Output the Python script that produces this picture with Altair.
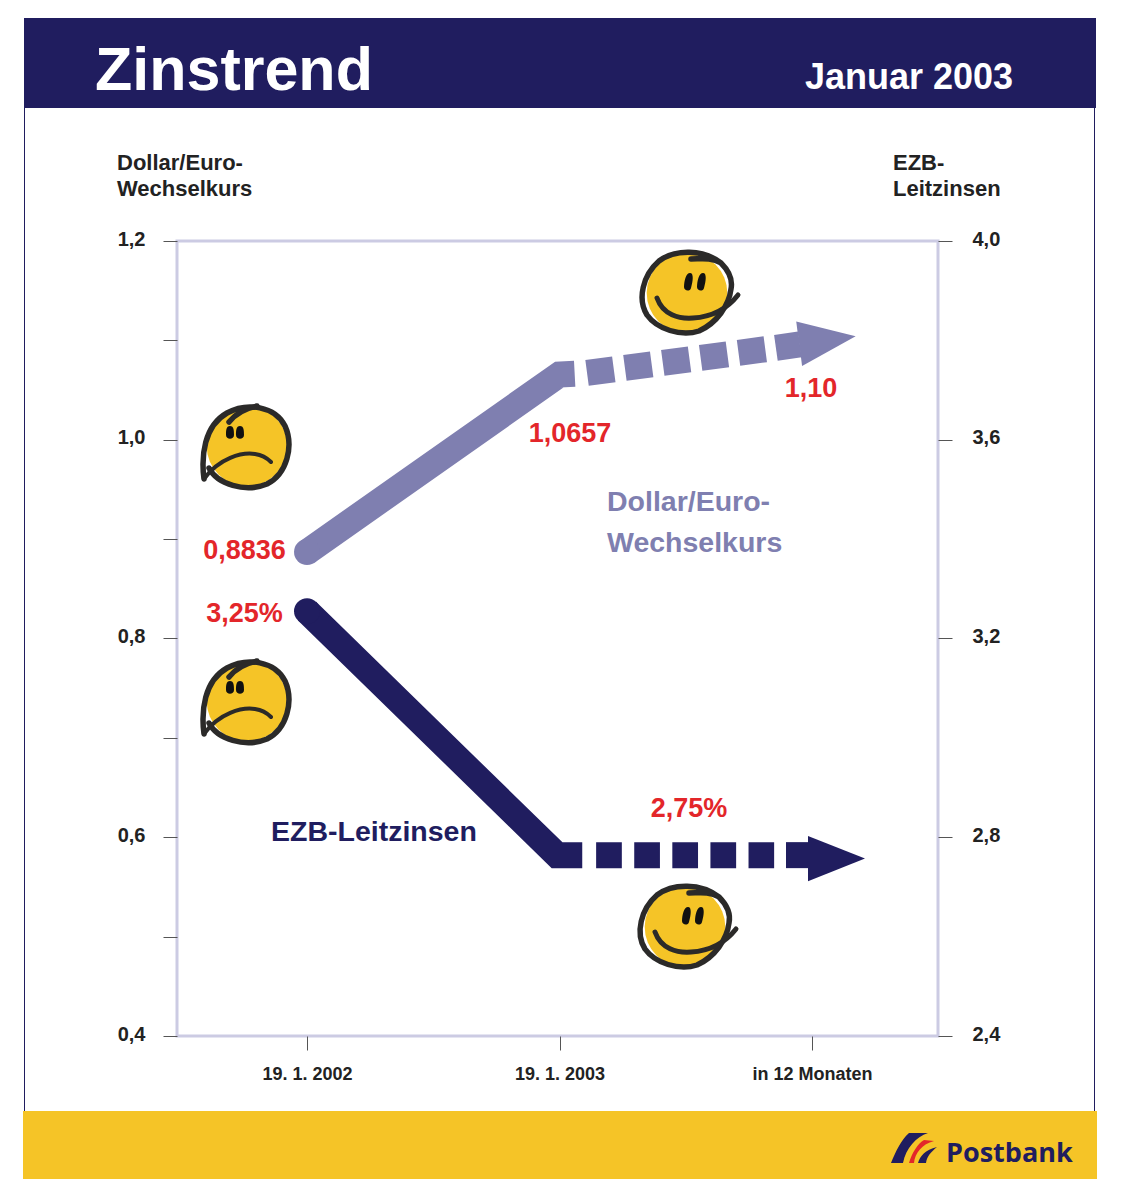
import re
import altair as alt
import pandas as pd

PLOT_L, PLOT_T, PLOT_W, PLOT_H = 177, 241, 761, 795
NAVY = "#201d5f"
LAV = "#7f7fb0"
RED = "#e3262a"
YEL = "#f5c427"
INK = "#2b2a29"
FRAME = "#cccbe3"
NARROW = "Liberation Sans"

x_ticks = [0, 1, 2]
x_labels = ["19. 1. 2002", "19. 1. 2003", "in 12 Monaten"]
left_ticks = [0.4, 0.5, 0.6, 0.7, 0.8, 0.9, 1.0, 1.1, 1.2]
right_ticks = [2.4, 2.8, 3.2, 3.6, 4.0]

usd_x = [0, 1.0, 1.06]
usd_y = [0.887, 1.0657, 1.0665]
usd_dash_x = [1.109, 1.822]
usd_dash_y = [1.0673, 1.0913]
usd_shaft_x = [1.857, 1.952]
usd_shaft_y = [1.0925, 1.0959]
usd_head = (2.061, 1.1004)

ecb_x = [0, 0.99, 1.09]
ecb_y = [3.255, 2.764, 2.764]
ecb_dash_x = [1.145, 1.85]
ecb_dash_y = [2.764, 2.764]
ecb_shaft_x = [1.897, 1.992]
ecb_shaft_y = [2.764, 2.764]
ecb_head = (2.097, 2.757)

X = alt.Scale(domain=[-0.515, 2.499], nice=False, zero=False)
YL = alt.Scale(domain=[0.4, 1.2], nice=False, zero=False)
YR = alt.Scale(domain=[2.4, 4.0], nice=False, zero=False)

X_AXIS = alt.Axis(
    values=x_ticks, orient="bottom", domain=False, grid=False, tickSize=14,
    tickColor="#555555", labelPadding=15, labelFont=NARROW, labelFontWeight="bold",
    labelFontSize=18, labelColor="#222222", title=None,
    labelExpr=f"{x_labels}[datum.value]")
X_ENC = alt.X("x:Q", scale=X, axis=X_AXIS)


def px(v):
    return alt.value(v - PLOT_L)


def py(v):
    return alt.value(v - PLOT_T)


def series(xs, ys, scale, **mark):
    d = pd.DataFrame({"x": xs, "y": ys})
    return alt.Chart(d).mark_line(**mark).encode(
        x=X_ENC,
        y=alt.Y("y:Q", scale=scale, axis=None),
    )


def marker(xv, yv, scale, shape, size, color, angle=0):
    d = pd.DataFrame({"x": [xv], "y": [yv]})
    return alt.Chart(d).mark_point(
        shape=shape, size=size, filled=True, color=color, opacity=1, angle=angle
    ).encode(
        x=X_ENC,
        y=alt.Y("y:Q", scale=scale, axis=None),
    )


def box(x1, y1, x2, y2, color):
    d = pd.DataFrame({"a": [0]})
    return alt.Chart(d).mark_rect(color=color).encode(
        x=px(x1), x2=px(x2), y=py(y1), y2=py(y2)
    )


def label(t, xv, yv, size, color="#222222", align="left", font=NARROW, weight="bold"):
    d = pd.DataFrame({"t": [t]})
    return alt.Chart(d).mark_text(
        align=align, baseline="alphabetic", font=font, fontWeight=weight,
        fontSize=size, color=color,
    ).encode(x=px(xv), y=py(yv), text="t:N")


def unit(path):
    return re.sub(r"-?\d+(?:\.\d+)?", lambda m: f"{float(m.group())/50:.3f}", path)


def glyph(cx, cy, path, filled=False, color=INK, width=5.5):
    d = pd.DataFrame({"a": [0]})
    kw = dict(shape=unit(path), size=10000, opacity=1)
    if filled:
        m = alt.Chart(d).mark_point(filled=True, color=color, strokeWidth=0, **kw)
    else:
        m = alt.Chart(d).mark_point(filled=False, color=color, strokeWidth=width,
                                    strokeCap="round", strokeJoin="round", **kw)
    return m.encode(x=px(cx), y=py(cy))


SAD_LINE = ("M -43 33 C -46 10 -43 -20 -20 -33 C 0 -44 28 -40 38 -20 "
            "C 47 0 40 28 20 38 C -2 47 -30 38 -38 22")
SAD_MOUTH = "M -43 33 C -28 12 -5 6 8 8 C 15 9 20 12 24 16"
SAD_BROW = "M -18 -24 C -10 -34 0 -38 10 -40"
SAD_EYES = ("M -17 -20 C -13 -20 -13 -15 -13 -11 C -13 -6 -21 -6 -21 -11 C -21 -15 -21 -20 -17 -20 Z "
            "M -7 -20 C -3 -20 -3 -15 -3 -11 C -3 -6 -11 -6 -11 -11 C -11 -15 -11 -20 -7 -20 Z")
HAPPY_LINE = ("M 34 -30 C 42 -22 46 -14 44 -4 C 42 12 30 30 12 38 C -6 44 -30 36 -40 22 "
              "C -50 6 -44 -18 -28 -32 C -12 -44 16 -44 34 -30 C 24 -36 14 -34 4 -34")
HAPPY_SMILE = "M -30 5 C -24 22 -8 26 6 25 C 24 24 40 16 51 2"
HAPPY_EYES = ("M 3 -20 C 7 -20 6 -12 4 -5 C 3 -1 -3 -2 -3 -6 C -3 -12 -1 -20 3 -20 Z "
              "M 16 -20 C 20 -20 19 -12 17 -5 C 16 -1 10 -2 10 -6 C 10 -12 12 -20 16 -20 Z")


def face(cx, cy, kind):
    d = pd.DataFrame({"a": [0]})
    disc = alt.Chart(d).mark_point(shape="circle", filled=True, color=YEL, size=6500,
                                   opacity=1).encode(x=px(cx), y=py(cy))
    if kind == "sad":
        return [disc, glyph(cx, cy, SAD_LINE), glyph(cx, cy, SAD_MOUTH, width=4),
                glyph(cx, cy, SAD_BROW, width=5.5), glyph(cx, cy, SAD_EYES, True, "#111111")]
    return [disc, glyph(cx, cy, HAPPY_LINE), glyph(cx, cy, HAPPY_SMILE, width=5),
            glyph(cx, cy, HAPPY_EYES, True, "#111111")]


HEAD = "M -1 -0.79 L 1 0 L -1 0.79 Z"
LOGO_A = "M -21 15 C -16 3 -11 -8 -3 -15 L 16 -15 C 4 -11 -6 0 -9 15 Z"
LOGO_B = "M -3 15 C 0 5 6 -5 12 -8 L 22 -7 C 10 -4 3 5 2 15 Z"
LOGO_C = "M 6 15 C 8 8 13 2 25 -1 C 19 4 15 8 14 15 Z"

axis_left = alt.Chart(pd.DataFrame({"x": [0], "y": [1.2]})).mark_point(opacity=0).encode(
    x=X_ENC,
    y=alt.Y("y:Q", scale=YL, title=None, axis=alt.Axis(
        values=left_ticks, orient="left", domain=False, grid=False, tickSize=14,
        tickColor="#555555", labelPadding=18, labelFont=NARROW, labelFontWeight="bold",
        labelFontSize=20, labelColor="#222222", labelOffset=-2,
        labelExpr="round(datum.value*10)%2==0 ? replace(format(datum.value,'.1f'),'.',',') : ''")),
)
axis_right = alt.Chart(pd.DataFrame({"x": [0], "y": [4.0]})).mark_point(opacity=0).encode(
    x=X_ENC,
    y=alt.Y("y:Q", scale=YR, title=None, axis=alt.Axis(
        values=right_ticks, orient="right", domain=False, grid=False, tickSize=14,
        tickColor="#555555", labelPadding=20, labelFont=NARROW, labelFontWeight="bold",
        labelFontSize=20, labelColor="#222222", labelOffset=-2,
        labelExpr="replace(format(datum.value,'.1f'),'.',',')")),
)

layers = [
    box(24, 18, 1096, 108, NAVY),
    box(23, 1111, 1097, 1179, YEL),
    box(24, 108, 25, 1111, NAVY),
    box(1094, 108, 1095, 1111, NAVY),
    label("Zinstrend", 95, 90, 61, "white"),
    label("Januar 2003", 805, 89, 36, "white"),
    axis_left,
    axis_right,
    label("Dollar/Euro-", 117, 170, 22),
    label("Wechselkurs", 117, 196, 22),
    label("EZB-", 893, 170, 22),
    label("Leitzinsen", 893, 196, 22),
    series(usd_x, usd_y, YL, color=LAV, strokeWidth=26, strokeCap="butt", strokeJoin="miter"),
    marker(usd_x[0], usd_y[0], YL, "circle", 676, LAV),
    series(usd_dash_x, usd_dash_y, YL, color=LAV, strokeWidth=26, strokeCap="butt",
           strokeDash=[27, 11.2]),
    series(usd_shaft_x, usd_shaft_y, YL, color=LAV, strokeWidth=26, strokeCap="butt"),
    marker(usd_head[0], usd_head[1], YL, HEAD, 3249, LAV, angle=352.5),
    series(ecb_x, ecb_y, YR, color=NAVY, strokeWidth=26, strokeCap="butt", strokeJoin="miter"),
    marker(ecb_x[0], ecb_y[0], YR, "circle", 676, NAVY),
    series(ecb_dash_x, ecb_dash_y, YR, color=NAVY, strokeWidth=26, strokeCap="butt",
           strokeDash=[25.7, 12.4]),
    series(ecb_shaft_x, ecb_shaft_y, YR, color=NAVY, strokeWidth=26, strokeCap="butt"),
    marker(ecb_head[0], ecb_head[1], YR, HEAD, 3249, NAVY),
    label("0,8836", 244.5, 559, 27, RED, "center"),
    label("3,25%", 244.5, 622, 27, RED, "center"),
    label("1,0657", 570, 442, 27, RED, "center"),
    label("1,10", 811, 397, 27, RED, "center"),
    label("2,75%", 689, 817, 27, RED, "center"),
    label("Dollar/Euro-", 607, 511, 28.5, LAV),
    label("Wechselkurs", 607, 552, 28.5, LAV),
    label("EZB-Leitzinsen", 271, 841, 28.5, NAVY),
    *face(247, 446, "sad"),
    *face(247, 701, "sad"),
    *face(687, 293, "happy"),
    *face(685, 927, "happy"),
    glyph(912, 1148, LOGO_A, True, NAVY),
    glyph(912, 1148, LOGO_B, True, RED),
    glyph(912, 1148, LOGO_C, True, NAVY),
    label("Postbank", 946, 1162, 27, NAVY, font="Open Sans"),
]

chart = (
    alt.layer(*layers)
    .resolve_scale(y="independent")
    .properties(
        width=PLOT_W, height=PLOT_H,
        padding={"left": PLOT_L - 8, "top": PLOT_T - 8, "right": 170, "bottom": 150},
        autosize=alt.AutoSizeParams(type="none"),
        background="white",
    )
    .configure_view(stroke=FRAME, strokeWidth=3)
)
chart.save("out.html", embed_options={"renderer": "svg", "actions": False})
